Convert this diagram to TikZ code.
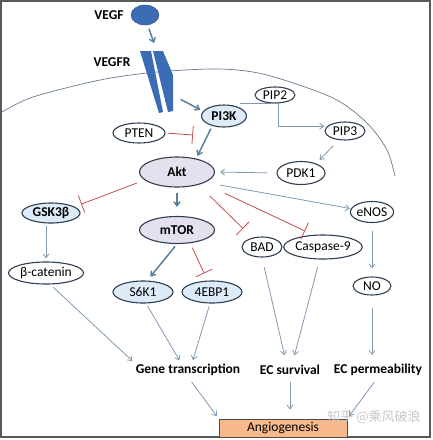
\documentclass[tikz,border=0pt]{standalone}
\usepackage{fontspec}
\setmainfont{Carlito}
\newfontfamily\cjkfont{Noto Sans CJK SC}
\usepackage{tikz}
\usetikzlibrary{shapes.geometric}
\usetikzlibrary{arrows.meta}

\definecolor{nodeline}{HTML}{2F3E50}
\definecolor{paleblue}{HTML}{DCEBF7}
\definecolor{palelilac}{HTML}{E5E0EE}
\definecolor{signal}{HTML}{56809F}
\definecolor{flow}{HTML}{8099B3}
\definecolor{block}{HTML}{C0504D}
\definecolor{receptor}{HTML}{3C6DB4}
\definecolor{peach}{HTML}{F7B98B}
\tikzset{
  >={Straight Barb[length=4pt,width=6pt]},
  mol/.style={ellipse, draw=nodeline, line width=1.1pt, inner sep=0pt, font=\fontsize{13.5}{15}\selectfont},
  kin/.style={mol, fill=paleblue},
  hub/.style={mol, fill=palelilac, font=\fontsize{13.5}{15}\selectfont\bfseries},
  bold/.style={font=\fontsize{13.5}{15}\selectfont\bfseries},
  outcome/.style={bold, inner sep=1pt},
  act/.style={->, flow, line width=0.8pt, shorten <=3pt, shorten >=3pt},
  fat/.style={->, signal, line width=1.5pt, shorten <=3pt, shorten >=3pt},
  inhibit/.style={-{Bar[width=18pt]}, block, line width=0.8pt}
}

\begin{document}
\begin{tikzpicture}[x=1pt, y=-1pt]
\useasboundingbox (0,0) rectangle (433,440);
\draw [gray!70!black, line width=1.4pt] (1,1) rectangle (430,437);

% cell membrane
\draw [flow!80!black, line width=0.7pt] plot [smooth] coordinates {(2,112) (33,97) (100,80) (157,72) (220,69) (267,75) (333,98) (367,123) (387,150) (395,176)};

% ligand and receptor
\node [outcome] (vegftxt) at (109,15) {VEGF};
\node [ellipse, fill=receptor, draw=receptor!70!black, minimum width=28, minimum height=20, inner sep=0pt] (vegf) at (145,15) {};
\node [outcome] (vegfrtxt) at (112,62) {VEGFR};
\fill [receptor] (140,51) -- (151,51) -- (163,112) -- (159,113) -- cycle;
\fill [receptor] (153,51) -- (163,51) -- (173,75) -- (173,111) -- (168,112) -- cycle;
\coordinate (vegfr) at (155,46);
\coordinate (vegfrbase) at (178,98);

\node [kin, bold, minimum width=45, minimum height=22] (pi3k) at (224,116) {PI3K};
\node [mol, minimum width=52, minimum height=20] (pten) at (139,133) {PTEN};
\node [hub, minimum width=75, minimum height=30] (akt) at (177,172) {Akt};
\node [mol, minimum width=40, minimum height=16] (pip2) at (275,95) {PIP2};
\node [mol, minimum width=40, minimum height=18] (pip3) at (345,131) {PIP3};
\node [mol, minimum width=48, minimum height=23] (pdk1) at (301,173) {PDK1};
\node [mol, minimum width=41, minimum height=21] (enos) at (372,212) {eNOS};
\node [kin, bold, minimum width=58, minimum height=20] (gsk) at (51,213) {GSK3β};
\node [hub, minimum width=75, minimum height=27] (mtor) at (177,230) {mTOR};
\node [mol, minimum width=40, minimum height=20] (bad) at (262,247) {BAD};
\node [mol, minimum width=74, minimum height=24] (casp9) at (323,247) {Caspase-9};
\node [mol, minimum width=75, minimum height=22] (bcat) at (46,273) {β-catenin};
\node [kin, minimum width=60, minimum height=22] (s6k1) at (143,292) {S6K1};
\node [kin, minimum width=60, minimum height=22] (ebp1) at (212,292) {4EBP1};
\node [mol, minimum width=38, minimum height=18] (no) at (372,286) {NO};

\node [outcome] (gene) at (188,370) {Gene transcription};
\node [outcome] (ecsurv) at (290,370) {EC survival};
\node [outcome] (ecperm) at (378,370) {EC permeability};
\node [draw=gray!60!black, fill=peach, line width=0.8pt, minimum width=128, minimum height=18, inner sep=0pt, font=\fontsize{13.5}{15}\selectfont] (angio) at (283,428) {Angiogenesis};
\node [text=gray!45, font=\cjkfont\fontsize{13}{15}\selectfont] (mark) at (374,417) {知乎 @乘风破浪};

% activation
\draw [fat, shorten <=4pt] (vegf.-75) -- (vegfr);
\draw [fat] (vegfrbase) -- (pi3k.167);
\draw [fat] (pi3k.220) -- (akt.35);
\draw [act, shorten <=0pt] (pi3k.north east |- pip2.290) -- (pip2.290) |- (pip3.165);
\draw [act, shorten <=8pt, shorten >=5pt] (pip3.235) -- (pdk1.32);
\draw [act, shorten <=9pt, shorten >=5pt] (pdk1.west) -- (akt.east);
\draw [act, shorten <=15pt, shorten >=1pt] (akt.-20) -- (enos.171);
\draw [fat, shorten <=5pt, shorten >=9pt] (akt.south) -- (mtor.north);
\draw [fat, shorten >=5pt] (mtor.south) -- (s6k1.70);
\draw [act, shorten <=2pt] (gsk.south -| bcat.north) -- (bcat.north);
\draw [act, shorten <=8pt, shorten >=8pt] (enos.south) -- (no.north);

% inhibition
\coordinate (ptenbar) at (193,135);
\draw [inhibit, shorten <=2pt] (pten.east) -- (ptenbar);
\draw [inhibit, shorten <=8pt, shorten >=7pt] (akt.194) -- (gsk.15);
\draw [inhibit, shorten <=16pt, shorten >=13pt] (akt.-31) -- (bad.136);
\draw [inhibit, shorten <=24pt, shorten >=9pt] (akt.-23) -- (casp9.129);
\draw [inhibit, shorten <=5pt, shorten >=8pt] (mtor.-45) -- (ebp1.111);

% outcomes
\draw [act, shorten <=4pt] (bcat.-70) -- (gene.north west);
\draw [act] (s6k1.-75) -- (gene.135);
\draw [act] (ebp1.-100) -- (gene.60);
\draw [act, shorten <=10pt, shorten >=9pt] (bad.south) -- (ecsurv.120);
\draw [act, shorten <=8pt, shorten >=9pt] (casp9.-105) -- (ecsurv.70);
\draw [act, shorten <=12pt, shorten >=8pt] (no.south) -- (no.south |- ecperm.north);
\draw [act, shorten <=6pt] (gene.south) -- (angio.north west);
\draw [act, shorten <=6pt, shorten >=9pt] (ecsurv.south) -- (ecsurv.south |- angio.north);
\draw [act, shorten <=6pt] (ecperm.south) -- (angio.north east);

\end{tikzpicture}
\end{document}
